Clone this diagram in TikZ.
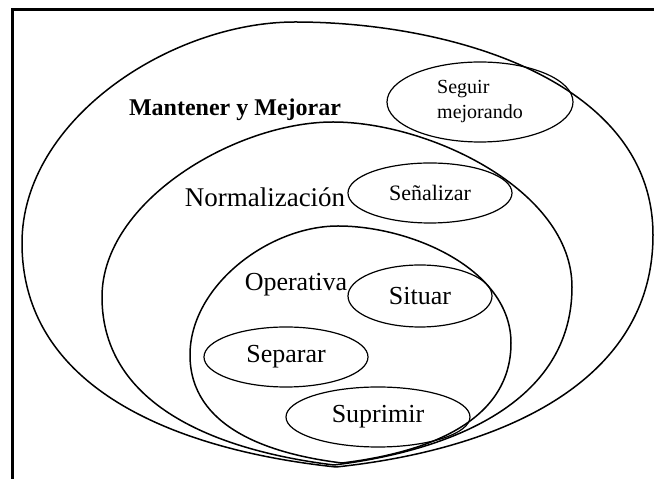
\documentclass[tikz,border=0pt]{standalone}
\usepackage{fontspec}
\setmainfont{Liberation Serif}
\usetikzlibrary{shapes.geometric}
\newcommand{\fsz}[1]{\fontsize{#1}{#1}\selectfont}
\tikzset{
  zone/.style={draw=black, line width=1.5pt},
  oval/.style={ellipse, draw=black, line width=1.2pt, inner sep=0pt},
  lab/.style={text=black, inner sep=0pt},
  frameline/.style={draw=black, line width=3pt}
}

\begin{document}
\begin{tikzpicture}[x=1pt, y=1pt]
  \useasboundingbox (0,0) rectangle (654,479);
  \fill[white] (0,0) rectangle (654,479);

  % frame
  \coordinate (fb) at (12,-5);
  \coordinate (fc) at (12,469);
  \coordinate (fr) at (660,469);
  \draw[frameline] (fb) -- (fc) -- (fr);

  % Mantener y Mejorar
  \coordinate (B0) at (336,12);
  \coordinate (L0) at (22,236);
  \coordinate (T0) at (295,457);
  \coordinate (R0) at (653,244);
  \draw[zone] (B0) to[out=174,in=-90] (L0) to[out=90,in=180,looseness=0.9] (T0)
    to[out=0,in=90,looseness=0.95] (R0) to[out=-90,in=6] (B0);

  % Normalizacion
  \coordinate (B1) at (334,14);
  \coordinate (L1) at (102,182);
  \coordinate (T1) at (333,357);
  \coordinate (R1) at (572,192);
  \draw[zone] (B1) to[out=173,in=-90] (L1) to[out=90,in=180,looseness=0.85] (T1)
    to[out=0,in=90,looseness=0.85] (R1) to[out=-90,in=7] (B1);

  % Operativa
  \coordinate (B2) at (342,16);
  \coordinate (L2) at (190,124);
  \coordinate (T2) at (338,253);
  \coordinate (R2) at (511,136);
  \draw[zone] (B2) to[out=173,in=-90] (L2) to[out=90,in=180,looseness=0.9] (T2)
    to[out=0,in=90,looseness=0.9] (R2) to[out=-90,in=7] (B2);

  % titles
  \node[lab, font=\bfseries\fsz{24}] (mant) at (235,369) {Mantener y Mejorar};
  \node[lab, font=\fsz{27}] (norm) at (265,282) {Normalización};
  \node[lab, font=\fsz{26}] (oper) at (296,194) {Operativa};

  % ovals
  \node[oval, minimum width=186, minimum height=80, font=\fsz{20},
        align=left] (seguir) at (480,377) {Seguir\\[5pt]mejorando};
  \node[oval, minimum width=164, minimum height=60, font=\fsz{22}] (senal) at (430,286) {Señalizar};
  \node[oval, minimum width=144, minimum height=62, font=\fsz{26}] (situar) at (420,183) {Situar};
  \node[oval, minimum width=164, minimum height=60, font=\fsz{26}] (separar) at (286,122) {Separar};
  \node[oval, minimum width=184, minimum height=60, font=\fsz{26}] (suprimir) at (378,62) {Suprimir};
\end{tikzpicture}
\end{document}
